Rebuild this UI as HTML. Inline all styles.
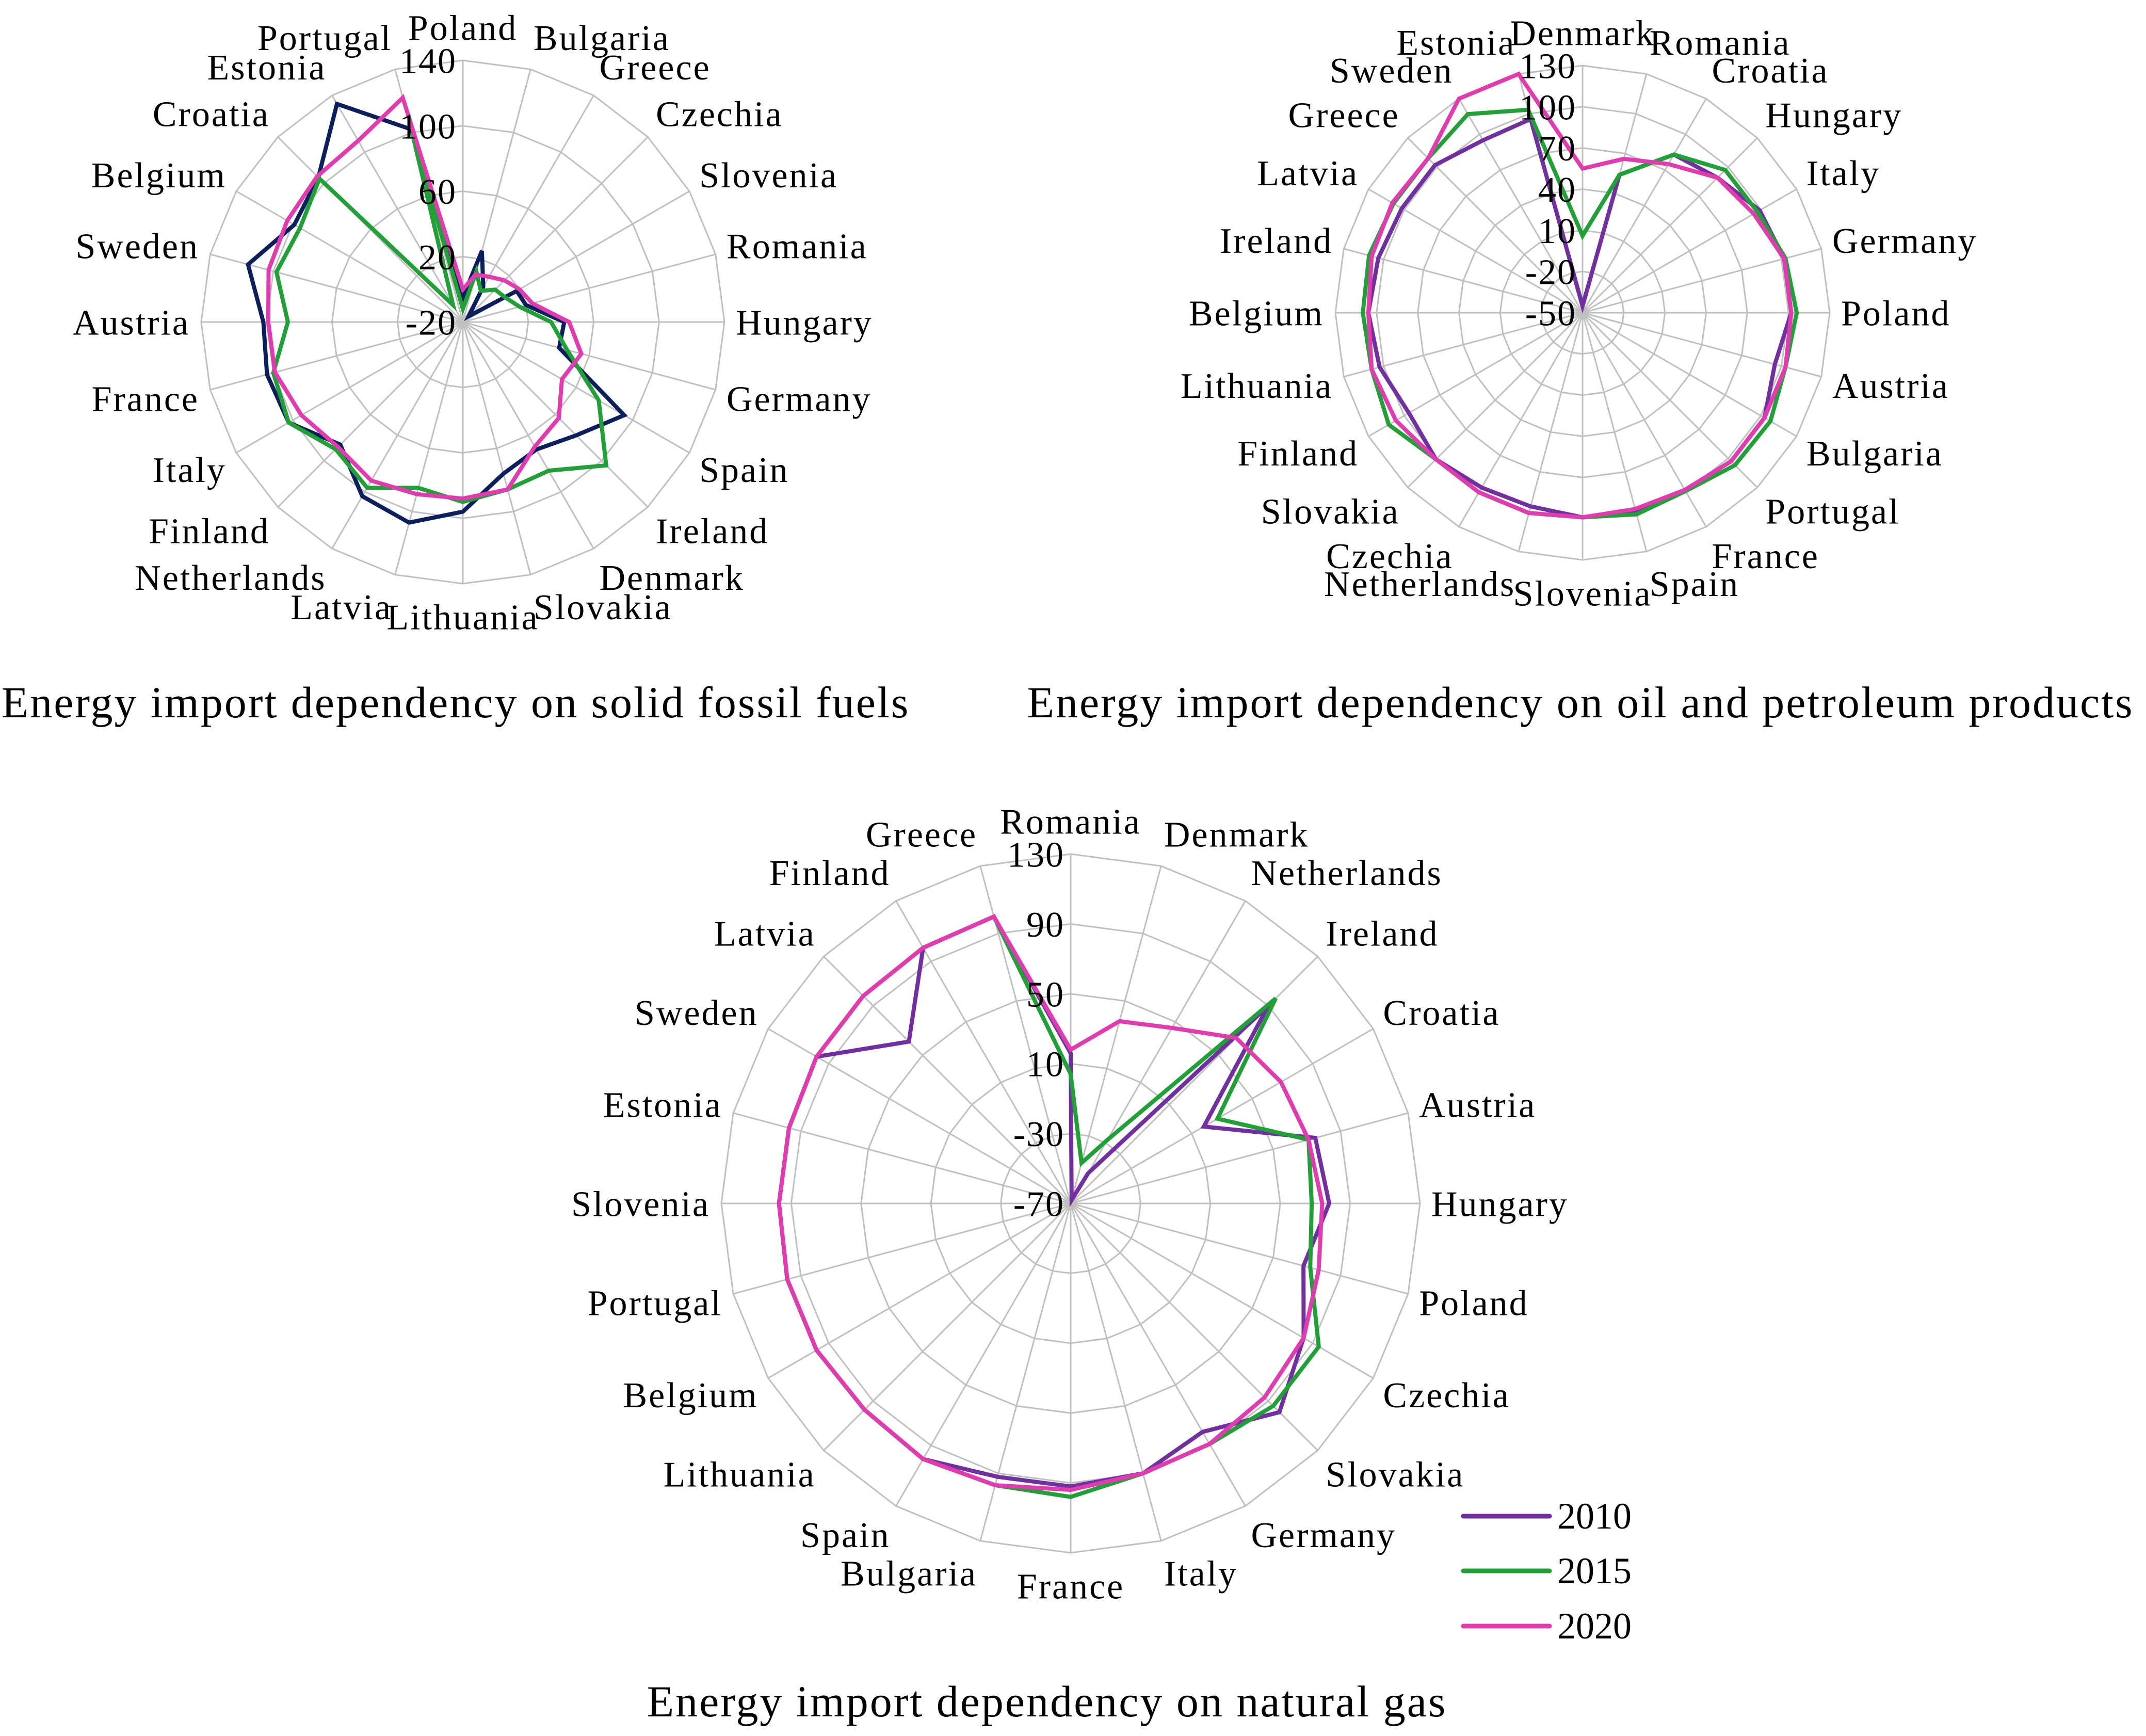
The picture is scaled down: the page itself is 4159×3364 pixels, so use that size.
<!DOCTYPE html>
<html><head><meta charset="utf-8"><style>
html,body{margin:0;padding:0;background:#fff;}
svg{display:block;font-family:"Liberation Serif",serif;}
</style></head><body>
<svg id="root" width="4159" height="3364" viewBox="0 0 4159 3364" xmlns="http://www.w3.org/2000/svg">
<g id="c1"></g>
<g id="c2"></g>
<g id="c3"></g>
<text x="883" y="1390" font-size="86" letter-spacing="3" text-anchor="middle">Energy import dependency on solid fossil fuels</text>
<text x="3063" y="1390" font-size="86" letter-spacing="3" text-anchor="middle">Energy import dependency on oil and petroleum products</text>
<text x="2029" y="3326" font-size="86" letter-spacing="3" text-anchor="middle">Energy import dependency on natural gas</text>
<g>
<line x1="2836" y1="2938" x2="3003" y2="2938" stroke="#7030a0" stroke-width="9" stroke-linecap="round"/>
<text x="3018" y="2962" font-size="72">2010</text>
<line x1="2836" y1="3044" x2="3003" y2="3044" stroke="#22a038" stroke-width="9" stroke-linecap="round"/>
<text x="3018" y="3068" font-size="72">2015</text>
<line x1="2836" y1="3151" x2="3003" y2="3151" stroke="#e03cb0" stroke-width="9" stroke-linecap="round"/>
<text x="3018" y="3175" font-size="72">2020</text>
</g>
</svg>
<script>
// Chart 1: solid fossil fuels
const cats1 = ["Poland","Bulgaria","Greece","Czechia","Slovenia","Romania","Hungary","Germany","Spain","Ireland","Denmark","Slovakia","Lithuania","Latvia","Netherlands","Finland","Italy","France","Austria","Sweden","Belgium","Croatia","Estonia","Portugal"];
const s1_2010 = [-5,25,5,-15,18,20,42,41,94,78,70,76,96,107,103,86,103,104,102,116,99,105,134,102];
const s1_2015 = [-12,12,2,8,10,16,34,46,76,104,85,86,90,85,97,90,103,100,87,98,95,104,-8,100];
const s1_2020 = [0,10,12,16,20,24,45,55,50,63,68,86,88,89,92,88,94,99,99,103,104,106,108,122];
const ticks1 = [-20,20,60,100,140];
// Chart 2: oil and petroleum products
const cats2 = ["Denmark","Romania","Croatia","Hungary","Italy","Germany","Poland","Austria","Bulgaria","Portugal","France","Spain","Slovenia","Netherlands","Czechia","Slovakia","Finland","Lithuania","Belgium","Ireland","Latvia","Greece","Sweden","Estonia"];
const s2_2010 = [-45,54,83,89,99,102,102,95,103,103,99,99,99,96,97,101,96,103,106,104,102,102,95,96];
const s2_2015 = [6,54,83,97,97,103,106,103,108,107,100,102,99,101,101,101,113,109,110,111,109,109,117,103];
const s2_2020 = [55,66,75,89,94,102,102,103,103,103,99,98,99,101,101,101,107,109,106,109,110,109,130,130];
const ticks2 = [-50,-20,10,40,70,100,130];
// Chart 3: natural gas
const cats3 = ["Romania","Denmark","Netherlands","Ireland","Croatia","Austria","Hungary","Poland","Czechia","Slovakia","Germany","Italy","France","Bulgaria","Spain","Lithuania","Belgium","Portugal","Slovenia","Estonia","Sweden","Latvia","Finland","Greece"];
const s3_2010 = [16,-68,-50,90,18,75,78,68,84,99,81,90,92,92,99,97,98,98,97,97,98,61,99,100];
const s3_2015 = [4,-46,-28,96,27,71,68,72,94,94,89,90,98,97,99,97,98,98,97,97,98,98,99,100];
const s3_2020 = [18,38,46,64,69,71,74,77,84,87,89,90,94,97,99,97,98,98,97,97,98,98,99,100];
const ticks3 = [-70,-30,10,50,90,130];
const years = ["2010","2015","2020"];

const NS = "http://www.w3.org/2000/svg";
function mk(tag, attrs, parent){
  const e = document.createElementNS(NS, tag);
  for (const k in attrs) e.setAttribute(k, attrs[k]);
  parent.appendChild(e); return e;
}
function drawRadar(gid, cx, cy, R, cats, ticks, series, colors, fs){
  const g = document.getElementById(gid);
  const vmin = ticks[0], vmax = ticks[ticks.length-1];
  const n = cats.length;
  const rs = v => (v - vmin) / (vmax - vmin) * R;
  const ang = i => i * 2 * Math.PI / n;
  const pt = (i, r) => [cx + r*Math.sin(ang(i)), cy - r*Math.cos(ang(i))];
  for (let t = 1; t < ticks.length; t++){
    const r = rs(ticks[t]);
    const pts = cats.map((c,i)=>pt(i,r).map(v=>v.toFixed(1)).join(",")).join(" ");
    const ring = mk("polygon", {points: pts, fill: "none", stroke: "#c0c0c0", "stroke-width": 3}, g);
    
    
  }
  cats.forEach((c,i)=>{
    const p = pt(i, R);
    const sp = mk("line", {x1: cx, y1: cy, x2: p[0].toFixed(1), y2: p[1].toFixed(1), stroke: "#c0c0c0", "stroke-width": 3}, g);
    
    
  });
  series.forEach((s, k)=>{
    const pts = s.map((v,i)=>pt(i, rs(v)).map(x=>x.toFixed(1)).join(",")).join(" ");
    const pl = mk("polygon", {points: pts, fill: "none", stroke: colors[k], "stroke-width": 8, "stroke-linejoin": "miter", "stroke-miterlimit": 4}, g);
    
    
  });
  cats.forEach((c,i)=>{
    const a = ang(i), sn = Math.sin(a), cs = Math.cos(a);
    const p = pt(i, R + 22);
    const anchor = sn > 0.1 ? "start" : (sn < -0.1 ? "end" : "middle");
    const y = p[1] + fs*0.35 - cs*fs*0.6;
    const t = mk("text", {x: p[0].toFixed(1), y: y.toFixed(1), "font-size": fs, "letter-spacing": 3, "text-anchor": anchor, fill: "#000"}, g);
    t.textContent = c;
    
    
  });
  ticks.forEach(v=>{
    const r = rs(v);
    const t = mk("text", {x: cx - 12, y: (cy - r + fs*0.35).toFixed(1), "font-size": fs, "letter-spacing": 2, "text-anchor": "end", fill: "#000"}, g);
    t.textContent = v;
    
    
  });
}
drawRadar("c1", 897, 624, 507, cats1, ticks1, [s1_2010, s1_2015, s1_2020], ["#0a1f5c","#22a038","#e03cb0"], 70);
drawRadar("c2", 3067, 606, 479, cats2, ticks2, [s2_2010, s2_2015, s2_2020], ["#7030a0","#22a038","#e03cb0"], 70);
drawRadar("c3", 2075, 2332, 677, cats3, ticks3, [s3_2010, s3_2015, s3_2020], ["#7030a0","#22a038","#e03cb0"], 70);
</script>
</body></html>
